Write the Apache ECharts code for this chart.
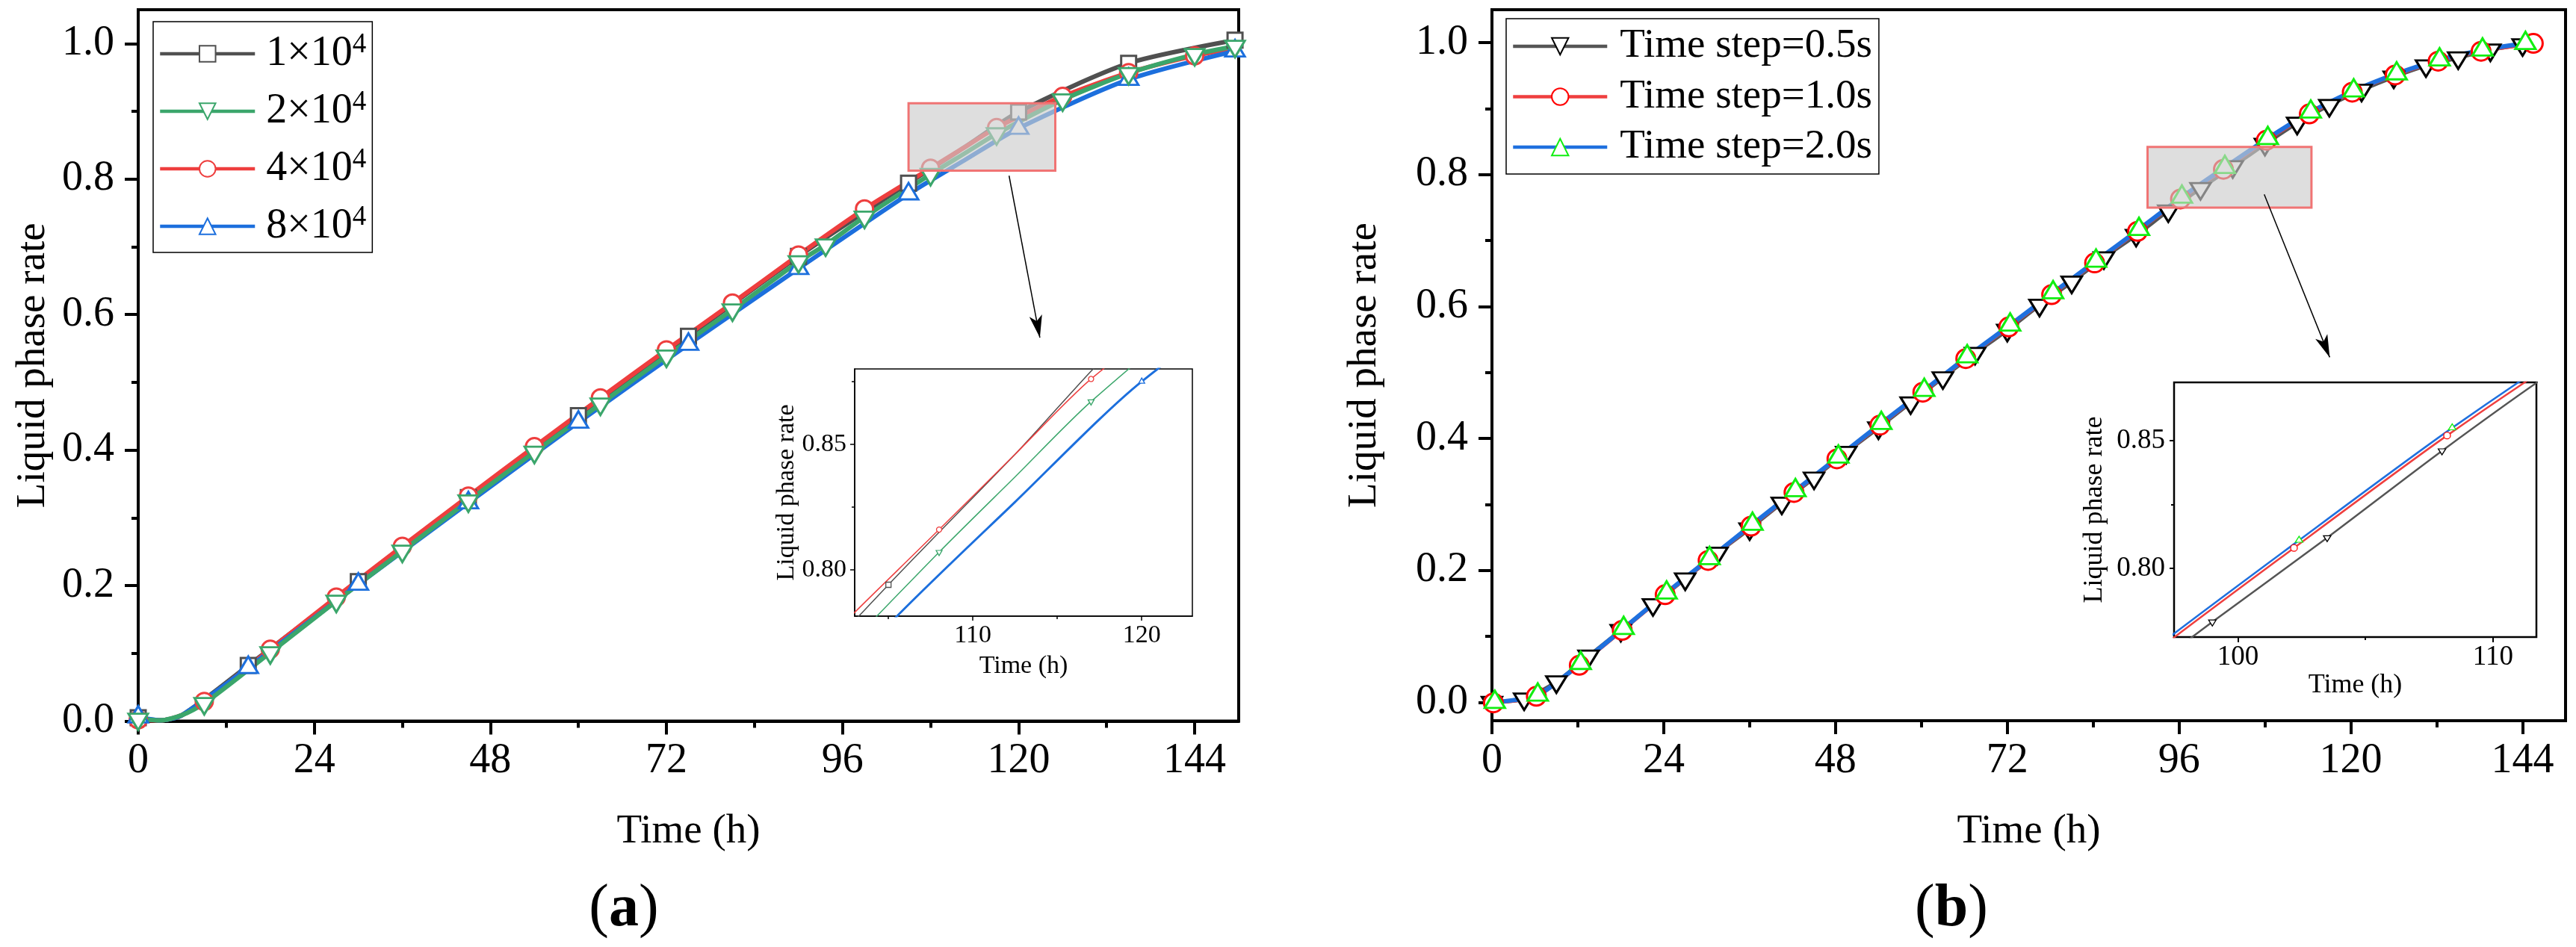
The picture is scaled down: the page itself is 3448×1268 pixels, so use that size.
<!DOCTYPE html>
<html>
<head>
<meta charset="utf-8">
<script src="https://cdn.jsdelivr.net/npm/echarts@6/dist/echarts.min.js"></script>
</head>
<body style="margin:0;background:#fff">
<div id="main" style="width:3448px;height:1268px"></div>
<script>
// ---------- (a) grid size study ----------
var aNames = ['1×10^4', '2×10^4', '4×10^4', '8×10^4'];
var aLineOnly = [3, 6, 112.5, 150];          // curve points drawn without a marker
var aT1 = [0, 3, 6, 15, 30, 45, 60, 75, 90, 105, 112.5, 120, 135, 149.5];
var aV1 = [0.005, 0.001, 0.009, 0.082, 0.206, 0.330, 0.451, 0.568, 0.686, 0.794, 0.846, 0.899, 0.971, 1.005];
var aT2 = [0, 3, 6, 9, 18, 27, 36, 45, 54, 63, 72, 81, 90, 93.7, 99, 108, 112.5, 117, 126, 135, 144, 149.5];
var aV2 = [0.003, 0.001, 0.009, 0.026, 0.101, 0.177, 0.251, 0.325, 0.397, 0.468, 0.539, 0.607, 0.678, 0.703, 0.744, 0.807, 0.837, 0.867, 0.917, 0.956, 0.984, 0.996];
var aT4 = [0, 3, 6, 9, 18, 27, 36, 45, 54, 63, 72, 81, 90, 99, 108, 112.5, 117, 126, 135, 144, 150];
var aV4 = [0.002, 0.001, 0.009, 0.029, 0.106, 0.183, 0.258, 0.332, 0.405, 0.477, 0.548, 0.617, 0.688, 0.756, 0.816, 0.846, 0.876, 0.922, 0.957, 0.982, 0.994];
var aT8 = [0, 3, 6, 15, 30, 45, 60, 75, 90, 105, 112.5, 120, 135, 149.5];
var aV8 = [0.006, 0.001, 0.009, 0.079, 0.202, 0.322, 0.441, 0.556, 0.668, 0.778, 0.827, 0.875, 0.947, 0.989];
var aZoomBox = [[105, 0.8125], [125, 0.912]];
var aArrow = [[118.7, 0.805], [122.9, 0.566]];

// ---------- (b) time step study ----------
var bNames = ['Time step=0.5s', 'Time step=1.0s', 'Time step=2.0s'];
var bT05 = [0, 4.5, 9, 13.5, 18, 22.5, 27, 31.5, 36, 40.5, 45, 49.5, 54, 58.5, 63, 67.5, 72, 76.5, 81, 85.5, 90, 94.5, 99, 103.5, 108, 112.5, 117, 121.5, 126, 130.5, 135, 139.5, 144];
var bV05 = [0.000, 0.005, 0.031, 0.070, 0.109, 0.148, 0.187, 0.226, 0.263, 0.302, 0.340, 0.379, 0.416, 0.454, 0.492, 0.529, 0.564, 0.602, 0.637, 0.674, 0.708, 0.745, 0.779, 0.812, 0.846, 0.878, 0.905, 0.928, 0.948, 0.965, 0.977, 0.989, 0.997];
var bT10 = [0.2, 6.2, 12.2, 18.2, 24.2, 30.2, 36.2, 42.2, 48.2, 54.2, 60.2, 66.2, 72.2, 78.2, 84.2, 90.2, 96.2, 102.2, 108.2, 114.2, 120.2, 126.2, 132.2, 138.2, 145.5];
var bV10 = [-0.001, 0.009, 0.056, 0.109, 0.163, 0.215, 0.267, 0.318, 0.369, 0.420, 0.470, 0.521, 0.569, 0.618, 0.666, 0.714, 0.763, 0.808, 0.852, 0.892, 0.925, 0.951, 0.972, 0.987, 0.999];
var bT20 = [0.4, 6.4, 12.4, 18.4, 24.4, 30.4, 36.4, 42.4, 48.4, 54.4, 60.4, 66.4, 72.4, 78.4, 84.4, 90.4, 96.4, 102.4, 108.4, 114.4, 120.4, 126.4, 132.4, 138.4, 144.4];
var bV20 = [0.000, 0.011, 0.059, 0.112, 0.166, 0.218, 0.270, 0.321, 0.372, 0.423, 0.473, 0.524, 0.572, 0.621, 0.669, 0.717, 0.766, 0.811, 0.855, 0.895, 0.927, 0.953, 0.974, 0.989, 0.999];
var bZoomBox = [[91.6, 0.75], [114.5, 0.842]];
var bArrow = [[107.9, 0.770], [117.05, 0.523]];

// ---------- ticks ----------
var mainXTicks = [0, 24, 48, 72, 96, 120, 144];
var mainXMinor = [12, 36, 60, 84, 108, 132];
var mainYTicks = [0, 0.2, 0.4, 0.6, 0.8, 1.0];
var mainYMinor = [0.1, 0.3, 0.5, 0.7, 0.9];
var aInXTicks = [110, 120], aInXMinor = [105, 115];
var aInYTicks = [0.80, 0.85], aInYMinor = [0.825, 0.875];
var bInXTicks = [100, 110], bInXMinor = [105];
var bInYTicks = [0.80, 0.85], bInYMinor = [0.825];

var serif = 'Liberation Serif';
var chart = echarts.init(document.getElementById('main'));

function pts(ts, vs, noMark) {
  return ts.map(function (t, i) {
    if (noMark && noMark.indexOf(t) >= 0) return {value: [t, vs[i]], symbol: 'none'};
    return [t, vs[i]];
  });
}

function curve(name, data, look, xi, inset) {
  return {
    type: 'line', name: name, xAxisIndex: xi, yAxisIndex: xi, data: data,
    smooth: 0.25, clip: true, showAllSymbol: true,
    symbol: look.symbol, symbolRotate: look.rotate || 0,
    symbolSize: inset ? look.inSize : look.size,
    symbolOffset: look.offset || [0, 0],
    lineStyle: {color: look.line, width: inset ? look.inWidth : look.width},
    itemStyle: {color: '#fff', borderColor: look.mark, borderWidth: inset ? 1.3 : 3},
    emphasis: {disabled: true}, animation: false
  };
}

function axis(o) {
  return {
    type: 'value', gridIndex: o.grid, position: o.pos, min: o.range[0], max: o.range[1],
    name: o.name || '', nameLocation: 'middle', nameGap: o.nameGap || 0,
    nameRotate: o.pos === 'left' ? 90 : 0,
    nameTextStyle: {fontFamily: serif, fontSize: o.nameSize || 10, color: '#000'},
    axisLine: {show: !o.minor, onZero: false, lineStyle: {color: '#000', width: o.w}},
    axisTick: {show: true, customValues: o.ticks, length: o.len, lineStyle: {color: '#000', width: o.w}},
    axisLabel: o.minor ? {show: false} : {
      customValues: o.ticks, margin: o.margin, fontFamily: serif, fontSize: o.size, color: '#000',
      formatter: function (v) { return v.toFixed(o.dec); }
    },
    splitLine: {show: false}
  };
}

function frame(left, top, width, height, w) {
  return {left: left, top: top, width: width, height: height, show: true,
    borderColor: '#000', borderWidth: w, backgroundColor: '#fff'};
}

function marks(xi, box, arrow) {
  return {
    type: 'line', xAxisIndex: xi, yAxisIndex: xi, data: [], silent: true, z: 10,
    markArea: {silent: true, z: 10,
      itemStyle: {color: 'rgba(205,205,205,0.65)', borderColor: '#f07474', borderWidth: 3},
      data: [[{coord: box[0]}, {coord: box[1]}]]},
    markLine: {silent: true, z: 10, symbol: ['none', 'arrow'], symbolSize: [13, 30],
      label: {show: false}, lineStyle: {color: '#000', width: 1.5, type: 'solid'},
      data: [[{coord: arrow[0]}, {coord: arrow[1]}]]}
  };
}

var lookA = [
  {symbol: 'rect', size: 20, inSize: 7, line: '#505050', mark: '#505050', width: 6, inWidth: 1.5},
  {symbol: 'triangle', rotate: 180, offset: [0, '17%'], size: [26, 22], inSize: [8, 7], line: '#3ba66b', mark: '#3ba66b', width: 6, inWidth: 1.5},
  {symbol: 'circle', size: 23, inSize: 7, line: '#ee3e3e', mark: '#ee3e3e', width: 6, inWidth: 1.5},
  {symbol: 'triangle', offset: [0, '-17%'], size: [26, 22], inSize: [8, 7], line: '#1c6fdd', mark: '#1c6fdd', width: 6, inWidth: 3}
];
var lookB = [
  {symbol: 'triangle', rotate: 180, offset: [0, '17%'], size: [27, 22], inSize: [10, 8], line: '#555555', mark: '#000000', width: 5, inWidth: 2.5},
  {symbol: 'circle', size: 25, inSize: 9, line: '#ef3f3f', mark: '#ff0000', width: 5, inWidth: 2.5},
  {symbol: 'triangle', offset: [0, '-17%'], size: [27, 23], inSize: [10, 8], line: '#1f70de', mark: '#11ee11', width: 6, inWidth: 2.5}
];

var aData = [pts(aT1, aV1, aLineOnly), pts(aT2, aV2, aLineOnly), pts(aT4, aV4, aLineOnly), pts(aT8, aV8, aLineOnly)];
var bData = [pts(bT05, bV05), pts(bT10, bV10), pts(bT20, bV20)];
var aOrder = [0, 2, 3, 1];   // drawing order: green on top

var series = [];
aOrder.forEach(function (k) { series.push(curve(aNames[k], aData[k], lookA[k], 0, false)); });
series.push(marks(0, aZoomBox, aArrow));
aOrder.forEach(function (k) { series.push(curve(aNames[k], aData[k], lookA[k], 1, true)); });
[0, 1, 2].forEach(function (k) { series.push(curve(bNames[k], bData[k], lookB[k], 2, false)); });
series.push(marks(2, bZoomBox, bArrow));
[0, 1, 2].forEach(function (k) { series.push(curve(bNames[k], bData[k], lookB[k], 3, true)); });

// axes 0..3: labelled axis of each grid; 4..7: minor ticks of the same grids
var xAxes = [
  axis({grid: 0, pos: 'bottom', range: [0, 150], ticks: mainXTicks, w: 4, len: 18, margin: 26, size: 56, dec: 0, name: 'Time (h)', nameSize: 55, nameGap: 121}),
  axis({grid: 1, pos: 'bottom', range: [103, 123], ticks: aInXTicks, w: 1.5, len: 6, margin: 9, size: 34, dec: 0, name: 'Time (h)', nameSize: 34, nameGap: 50}),
  axis({grid: 2, pos: 'bottom', range: [0, 150], ticks: mainXTicks, w: 4, len: 18, margin: 26, size: 56, dec: 0, name: 'Time (h)', nameSize: 55, nameGap: 121}),
  axis({grid: 3, pos: 'bottom', range: [97.5, 111.7], ticks: bInXTicks, w: 2, len: 7, margin: 9, size: 37, dec: 0, name: 'Time (h)', nameSize: 36, nameGap: 42}),
  axis({grid: 0, pos: 'bottom', range: [0, 150], ticks: mainXMinor, w: 4, len: 9, minor: true}),
  axis({grid: 1, pos: 'bottom', range: [103, 123], ticks: aInXMinor, w: 1.5, len: 4, minor: true}),
  axis({grid: 2, pos: 'bottom', range: [0, 150], ticks: mainXMinor, w: 4, len: 9, minor: true}),
  axis({grid: 3, pos: 'bottom', range: [97.5, 111.7], ticks: bInXMinor, w: 2, len: 4, minor: true})
];
var yAxes = [
  axis({grid: 0, pos: 'left', range: [0, 1.05], ticks: mainYTicks, w: 4, len: 18, margin: 32, size: 56, dec: 1, name: 'Liquid phase rate', nameSize: 55, nameGap: 113}),
  axis({grid: 1, pos: 'left', range: [0.7815, 0.880], ticks: aInYTicks, w: 1.5, len: 6, margin: 11, size: 34, dec: 2, name: 'Liquid phase rate', nameSize: 34, nameGap: 74}),
  axis({grid: 2, pos: 'left', range: [-0.028, 1.05], ticks: mainYTicks, w: 4, len: 18, margin: 32, size: 56, dec: 1, name: 'Liquid phase rate', nameSize: 55, nameGap: 143}),
  axis({grid: 3, pos: 'left', range: [0.7731, 0.8728], ticks: bInYTicks, w: 2, len: 6, margin: 12, size: 37, dec: 2, name: 'Liquid phase rate', nameSize: 36, nameGap: 88}),
  axis({grid: 0, pos: 'left', range: [0, 1.05], ticks: mainYMinor, w: 4, len: 9, minor: true}),
  axis({grid: 1, pos: 'left', range: [0.7815, 0.880], ticks: aInYMinor, w: 1.5, len: 4, minor: true}),
  axis({grid: 2, pos: 'left', range: [-0.028, 1.05], ticks: mainYMinor, w: 4, len: 9, minor: true}),
  axis({grid: 3, pos: 'left', range: [0.7731, 0.8728], ticks: bInYMinor, w: 2, len: 4, minor: true})
];

var option = {
  backgroundColor: '#fff',
  animation: false,
  grid: [
    frame(185, 13, 1473, 952.5, 4),
    frame(1144, 494, 452, 331, 1.5),
    frame(1997, 13, 1437, 952, 4),
    frame(2910, 512, 485, 341, 2.5)
  ],
  xAxis: xAxes,
  yAxis: yAxes,
  legend: [
    {left: 205, top: 29, orient: 'vertical', data: aNames, selectedMode: false,
      itemWidth: 127, itemHeight: 27, itemGap: 17, padding: [13, 8, 5, 7],
      borderColor: '#000', borderWidth: 1.5, backgroundColor: '#fff',
      lineStyle: {width: 4.5},
      formatter: function (n) { return n.replace('^4', '{s|4}'); },
      textStyle: {fontFamily: serif, fontSize: 56, color: '#000', lineHeight: 60, padding: [0, 0, 0, 10],
        rich: {s: {fontFamily: serif, fontSize: 37, lineHeight: 28, verticalAlign: 'top', color: '#000'}}}},
    {left: 2016, top: 25, orient: 'vertical', data: bNames, selectedMode: false,
      itemWidth: 126, itemHeight: 28, itemGap: 11.5, padding: [9, 9, 8, 7],
      borderColor: '#000', borderWidth: 1.5, backgroundColor: '#fff',
      lineStyle: {width: 4.5},
      textStyle: {fontFamily: serif, fontSize: 55, color: '#000', lineHeight: 56, padding: [0, 0, 0, 12]}}
  ],
  graphic: [
    {type: 'text', x: 835, y: 1218, style: {text: '({b|a})', fontFamily: serif, fontSize: 80, fill: '#000',
      align: 'center', verticalAlign: 'middle', rich: {b: {fontFamily: serif, fontSize: 80, fontWeight: 'bold'}}}},
    {type: 'text', x: 2612, y: 1218, style: {text: '({b|b})', fontFamily: serif, fontSize: 80, fill: '#000',
      align: 'center', verticalAlign: 'middle', rich: {b: {fontFamily: serif, fontSize: 80, fontWeight: 'bold'}}}}
  ],
  series: series
};

chart.setOption(option);
</script>
</body>
</html>
